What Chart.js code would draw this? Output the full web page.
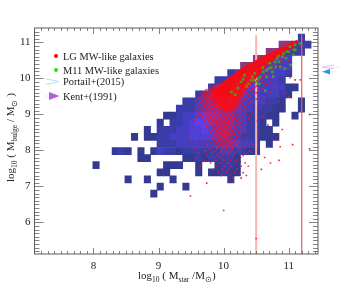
<!DOCTYPE html>
<html>
<head>
<meta charset="utf-8">
<title>Bulge mass vs stellar mass</title>
<script src="https://cdn.jsdelivr.net/npm/chart.js@4"></script>
<style>
  html, body { margin: 0; padding: 0; background: #fff; }
  canvas { display: block; }
</style>
</head>
<body>
<canvas id="chart" width="353" height="282"></canvas>
<script>
// tick labels
const xMajor = [8, 9, 10, 11];
const yMajor = [6, 7, 8, 9, 10, 11];

// density grid, top row first, one char per 0.0986 dex bin from x = 7.991
// . = empty, 1-5 = count class, 6 = low count class seen through the red haze
const heatRows = [
  "................................2",
  ".............................66222",
  "...........................662222",
  ".........................663333..",
  ".......................66333333..",
  ".....................2333333332..",
  "...................22334443332...",
  "..................23334444333311.",
  "................223444443333321..",
  "..............2233444443333221..1",
  ".............22233444443322211..1",
  "...........112334555443322211..1.",
  "..........1.223455544433221.1....",
  "........1.222334454444332211.....",
  "......1.112233344444433222111....",
  "..........2223333333344332.1.....",
  "...121.1.13221222222332211.......",
  ".......11.....112122221..........",
  "1..........111..1..1221..........",
  "..........11....1.11211..........",
  ".....1..1...1........1...........",
  "..........1...1..................",
  ".........1......................."
];

// edges of the solid red part of the LG sample
const redTopX = [9.8, 10.07, 10.24, 10.6, 11.13];
const redTopY = [9.63, 10.0, 10.23, 10.6, 11.06];
const redLowX = [9.8, 9.92, 10.05, 10.16, 10.3, 10.65, 11.0, 11.13];
const redLowY = [9.5, 9.2, 9.05, 9.15, 9.6, 10.35, 10.8, 11.0];

// LG MW-like galaxies: [y, x, x, ...]
const redRows = [
  [11.0, 11.08, 11.16], [10.9, 10.98, 11.1, 11.17], [10.8, 10.88, 11.04, 11.12],
  [10.7, 10.76, 10.86, 11.0, 11.06], [10.6, 10.7, 10.82, 10.93], [10.5, 10.62, 10.74, 10.88, 11.0],
  [10.42, 10.58, 10.68, 10.79, 10.92], [10.34, 10.5, 10.62, 10.72, 10.85], [10.26, 10.44, 10.56, 10.67, 10.8, 10.98],
  [10.18, 10.38, 10.46, 10.58, 10.7], [10.1, 10.32, 10.42, 10.52, 10.64, 10.76], [10.02, 10.26, 10.36, 10.47, 10.58, 10.69, 11.02],
  [9.96, 10.32, 10.4, 10.53, 10.62, 11.1, 11.18], [9.9, 10.26, 10.37, 10.46, 10.58, 10.72], [9.84, 9.94, 10.22, 10.31, 10.42, 10.55, 10.66],
  [9.78, 9.86, 9.92, 10.2, 10.27, 10.38, 10.5, 10.8], [9.72, 9.8, 9.88, 10.18, 10.25, 10.34, 10.45, 10.6],
  [9.66, 9.72, 9.79, 9.84, 10.16, 10.22, 10.3, 10.41, 10.55], [9.6, 9.7, 9.76, 9.82, 10.14, 10.2, 10.28, 10.36, 10.5, 10.73, 10.95],
  [9.54, 9.68, 9.73, 9.8, 9.82, 10.12, 10.18, 10.25, 10.33, 10.46], [9.48, 9.66, 9.71, 9.76, 9.81, 10.13, 10.19, 10.27, 10.4, 10.62, 11.0],
  [9.42, 9.64, 9.69, 9.75, 9.79, 9.83, 10.12, 10.17, 10.23, 10.35, 10.5], [9.36, 9.67, 9.72, 9.77, 9.82, 9.87, 10.12, 10.16, 10.22, 10.3, 10.44, 10.85],
  [9.3, 9.62, 9.7, 9.74, 9.79, 9.84, 9.89, 10.11, 10.15, 10.2, 10.28, 10.38, 10.7], [9.24, 9.6, 9.66, 9.72, 9.76, 9.81, 9.86, 9.9, 10.11, 10.18, 10.25, 10.42],
  [9.18, 9.63, 9.69, 9.74, 9.78, 9.83, 9.88, 9.92, 10.12, 10.17, 10.23, 10.34, 10.56], [9.12, 9.58, 9.67, 9.72, 9.77, 9.82, 9.87, 9.93, 10.11, 10.15, 10.21, 10.3],
  [9.06, 9.62, 9.7, 9.76, 9.81, 9.86, 9.91, 9.95, 10.11, 10.18, 10.27, 10.45, 11.2], [9.0, 9.64, 9.72, 9.78, 9.83, 9.88, 9.93, 9.98, 10.03, 10.08, 10.14, 10.22, 10.35, 11.32],
  [8.94, 9.6, 9.68, 9.75, 9.8, 9.86, 9.91, 9.96, 10.01, 10.06, 10.11, 10.17, 10.28, 10.6], [8.88, 9.66, 9.74, 9.8, 9.85, 9.9, 9.95, 10.0, 10.05, 10.1, 10.16, 10.24, 10.38],
  [8.82, 9.55, 9.7, 9.77, 9.83, 9.88, 9.93, 9.97, 10.02, 10.07, 10.13, 10.2, 10.3, 10.52], [8.76, 9.72, 9.8, 9.86, 9.91, 9.96, 10.0, 10.05, 10.1, 10.15, 10.26, 10.42],
  [8.7, 9.63, 9.75, 9.83, 9.89, 9.94, 9.98, 10.03, 10.08, 10.14, 10.22, 10.34, 10.68], [8.64, 9.78, 9.85, 9.9, 9.95, 10.0, 10.04, 10.09, 10.17, 10.28],
  [8.58, 9.58, 9.72, 9.83, 9.88, 9.93, 9.98, 10.02, 10.07, 10.12, 10.2, 10.4, 10.9], [8.52, 9.8, 9.87, 9.92, 9.97, 10.01, 10.05, 10.1, 10.18, 10.33],
  [8.46, 9.68, 9.84, 9.9, 9.95, 9.99, 10.03, 10.08, 10.15, 10.26, 10.55], [8.4, 9.76, 9.87, 9.93, 9.97, 10.01, 10.06, 10.12, 10.22],
  [8.34, 9.5, 9.82, 9.9, 9.95, 10.0, 10.04, 10.1, 10.19, 10.37], [8.28, 9.72, 9.86, 9.92, 9.98, 10.03, 10.08, 10.16, 10.3, 10.82],
  [8.22, 9.6, 9.8, 9.9, 9.96, 10.02, 10.07, 10.14, 10.24], [8.16, 9.75, 9.88, 9.95, 10.0, 10.06, 10.12, 10.2, 10.45, 11.06],
  [8.1, 9.66, 9.84, 9.93, 9.99, 10.05, 10.1, 10.18, 10.32, 10.87], [8.04, 9.55, 9.78, 9.9, 9.97, 10.04, 10.13, 10.25, 11.32],
  [7.98, 9.72, 9.86, 9.96, 10.03, 10.11, 10.22, 10.4], [7.92, 9.62, 9.82, 9.93, 10.01, 10.08, 10.18, 10.36],
  [7.86, 9.74, 9.9, 9.98, 10.07, 10.16, 10.3], [7.8, 9.58, 9.85, 9.95, 10.03, 10.14, 10.26, 10.63],
  [7.72, 9.7, 9.88, 10.0, 10.1, 10.2, 10.85], [7.65, 9.8, 9.94, 10.06, 10.18, 10.33, 10.72],
  [7.56, 9.64, 9.9, 10.02, 10.12, 10.27, 10.38], [7.47, 9.84, 9.98, 10.08, 10.2, 10.58],
  [7.38, 9.92, 10.05, 10.16, 10.3], [7.3, 9.96, 10.1, 10.35], [7.23, 10.14, 10.27],
  [7.09, 9.74], [6.73, 9.49], [6.33, 10.0], [5.55, 10.5]
];

// second pass over the dense part, between the rows above
const redRowsFine = [
  [10.66, 10.68, 10.74, 10.79, 10.9], [10.56, 10.66, 10.73, 10.78, 10.86], [10.46, 10.56, 10.61, 10.66, 10.71, 10.83],
  [10.38, 10.5, 10.55, 10.6, 10.65, 10.76], [10.3, 10.42, 10.47, 10.53, 10.59, 10.65, 10.74], [10.22, 10.36, 10.4, 10.46, 10.51, 10.6, 10.66],
  [10.14, 10.31, 10.35, 10.41, 10.47, 10.55, 10.62], [10.06, 10.27, 10.3, 10.37, 10.44, 10.5, 10.61], [9.99, 10.22, 10.28, 10.35, 10.43, 10.49, 10.56],
  [9.93, 10.2, 10.24, 10.3, 10.35, 10.44, 10.51], [9.87, 10.16, 10.21, 10.29, 10.34, 10.4, 10.48, 10.6], [9.81, 9.89, 9.93, 9.96, 10.15, 10.19, 10.25, 10.33, 10.41, 10.52],
  [9.75, 9.79, 9.84, 9.86, 9.9, 10.12, 10.17, 10.23, 10.31, 10.37, 10.48], [9.69, 9.74, 9.77, 9.83, 9.87, 10.13, 10.18, 10.21, 10.29, 10.35, 10.43],
  [9.63, 9.69, 9.73, 9.78, 9.81, 9.85, 10.1, 10.15, 10.19, 10.26, 10.32, 10.44], [9.57, 9.66, 9.71, 9.75, 9.79, 9.84, 9.87, 10.11, 10.16, 10.23, 10.29, 10.39],
  [9.51, 9.7, 9.74, 9.77, 9.83, 9.86, 9.9, 9.94, 10.14, 10.2, 10.24, 10.3, 10.37], [9.45, 9.62, 9.72, 9.78, 9.8, 9.85, 9.89, 9.92, 9.95, 10.0, 10.04, 10.09, 10.14, 10.18, 10.26, 10.33],
  [9.39, 9.68, 9.74, 9.79, 9.84, 9.88, 9.91, 9.96, 9.99, 10.03, 10.07, 10.1, 10.16, 10.24, 10.31], [9.33, 9.65, 9.73, 9.77, 9.81, 9.86, 9.9, 9.93, 9.97, 10.01, 10.05, 10.08, 10.13, 10.19, 10.26, 10.4],
  [9.27, 9.69, 9.75, 9.8, 9.83, 9.88, 9.92, 9.95, 9.98, 10.02, 10.06, 10.09, 10.14, 10.23, 10.29], [9.21, 9.71, 9.76, 9.79, 9.85, 9.89, 9.94, 9.96, 10.0, 10.04, 10.07, 10.1, 10.16, 10.21, 10.32],
  [9.15, 9.66, 9.73, 9.8, 9.84, 9.87, 9.91, 9.95, 9.99, 10.03, 10.06, 10.09, 10.13, 10.2, 10.27], [9.09, 9.69, 9.75, 9.81, 9.85, 9.89, 9.93, 9.97, 10.01, 10.04, 10.08, 10.12, 10.19, 10.33],
  [9.03, 9.74, 9.79, 9.84, 9.87, 9.92, 9.95, 10.0, 10.02, 10.06, 10.1, 10.16, 10.24], [8.97, 9.7, 9.77, 9.82, 9.88, 9.92, 9.96, 9.99, 10.04, 10.07, 10.12, 10.19, 10.31],
  [8.91, 9.76, 9.83, 9.87, 9.93, 9.97, 10.01, 10.04, 10.09, 10.13, 10.21], [8.85, 9.72, 9.81, 9.86, 9.9, 9.94, 9.99, 10.03, 10.06, 10.11, 10.18, 10.28],
  [8.79, 9.78, 9.84, 9.89, 9.93, 9.98, 10.01, 10.04, 10.08, 10.14, 10.23], [8.73, 9.81, 9.87, 9.92, 9.96, 10.0, 10.02, 10.07, 10.12, 10.19],
  [8.67, 9.74, 9.84, 9.88, 9.94, 9.97, 10.01, 10.05, 10.1, 10.16, 10.25], [8.61, 9.86, 9.91, 9.96, 9.99, 10.03, 10.06, 10.11, 10.21],
  [8.55, 9.83, 9.89, 9.94, 9.98, 10.02, 10.05, 10.09, 10.14, 10.29], [8.49, 9.79, 9.88, 9.92, 9.96, 10.0, 10.04, 10.07, 10.13, 10.23],
  [8.43, 9.85, 9.91, 9.95, 9.99, 10.02, 10.06, 10.11, 10.17], [8.37, 9.89, 9.94, 9.98, 10.01, 10.05, 10.09, 10.2],
  [8.31, 9.84, 9.92, 9.96, 10.01, 10.03, 10.07, 10.13], [8.25, 9.88, 9.94, 9.99, 10.04, 10.1, 10.19],
  [8.19, 9.85, 9.93, 9.98, 10.03, 10.09, 10.16], [8.13, 9.91, 9.97, 10.02, 10.07, 10.14]
];

// M11 MW-like galaxies
const greenX = [11.17, 11.1, 11.08, 11.02, 11.0, 10.97, 10.96, 10.92, 10.84, 10.85, 10.79, 10.71, 10.69, 10.61, 10.56, 10.46, 10.66, 10.48, 10.94, 10.87, 11.1, 11.07, 10.64, 10.5, 10.42, 10.32, 10.22, 10.53, 11.03, 10.8, 10.75, 10.9, 10.82, 10.73, 10.6, 10.55, 10.38, 10.27, 10.44, 10.66, 10.76, 10.3, 10.35, 10.12, 10.18];
const greenY = [10.97, 10.93, 10.79, 10.88, 10.74, 10.74, 10.56, 10.69, 10.62, 10.46, 10.46, 10.42, 10.28, 10.18, 10.04, 9.95, 10.04, 10.14, 10.28, 10.32, 10.79, 10.65, 9.66, 9.9, 9.95, 10.09, 9.73, 9.98, 10.37, 10.32, 10.18, 10.6, 10.55, 10.3, 10.3, 9.85, 9.85, 9.9, 10.05, 10.22, 10.05, 9.98, 9.78, 9.62, 9.55];

// vertical reference masses
const limitLow = 10.5;
const limitHigh = 11.2;

const legendItems = ["LG MW-like galaxies", "M11 MW-like galaxies", "Portail+(2015)", "Kent+(1991)"];

const HEAT_COLORS = { 1: "#343a92", 2: "#3a3ca8", 3: "#443ec0", 4: "#4e3fd8", 5: "#5a40ee", 6: "#8a3a80" };
const SERIF = '"Liberation Serif", serif';

// one floating bar per filled bin
const cellW = 0.0986, cellH = 0.197, gridX = 7.991, gridY = 6.70;
const heatCells = [];
heatRows.forEach((row, r) => {
  const j = heatRows.length - 1 - r;
  [...row].forEach((c, i) => {
    if (c === ".") return;
    heatCells.push({
      x: gridX + cellW * (i + 0.5),
      y: [gridY + cellH * j, gridY + cellH * (j + 1)],
      level: +c,
    });
  });
});

const redPoints = [];
redRows.concat(redRowsFine).forEach(([y, ...xs]) => xs.forEach(x => redPoints.push({ x, y })));

function drawParts(ctx, parts, x, y) {
  // text with subscripts, left to right from x
  parts.forEach(([text, sub]) => {
    ctx.font = (sub ? "7.5px " : "11px ") + SERIF;
    ctx.fillText(text, x, sub ? y + 2.5 : y);
    x += ctx.measureText(text).width;
  });
}

const frame = {
  id: "frame",
  afterDatasetsDraw(chart) {
    const { ctx, chartArea: a, scales: { x, y } } = chart;
    ctx.save();
    ctx.strokeStyle = "#5c5c5c";
    ctx.lineWidth = 1;
    ctx.strokeRect(a.left, a.top, a.right - a.left, a.bottom - a.top);
    ctx.strokeStyle = "rgba(90,90,90,0.75)";
    ctx.beginPath();
    for (let k = 72; k <= 114; k++) {
      const px = Math.round(x.getPixelForValue(k / 10)) + 0.5;
      const len = k % 10 === 0 ? 6 : 3;
      ctx.moveTo(px, a.bottom); ctx.lineTo(px, a.bottom - len);
      ctx.moveTo(px, a.top); ctx.lineTo(px, a.top + len);
    }
    for (let k = 52; k <= 113; k++) {
      const py = Math.round(y.getPixelForValue(k / 10)) + 0.5;
      const len = k % 10 === 0 ? 9 : 5;
      ctx.moveTo(a.left, py); ctx.lineTo(a.left + len, py);
      ctx.moveTo(a.right, py); ctx.lineTo(a.right - len, py);
    }
    ctx.stroke();

    // legend
    ctx.fillStyle = "#222";
    ctx.font = "10.4px " + SERIF;
    ctx.textBaseline = "alphabetic";
    const legendY = [60, 74, 85, 99.5];
    legendItems.forEach((t, i) => ctx.fillText(t, 63, legendY[i]));
    ctx.fillStyle = "#f00000";
    ctx.beginPath(); ctx.arc(56, 56, 2, 0, 7); ctx.fill();
    ctx.fillStyle = "#20e020";
    ctx.beginPath(); ctx.arc(56, 70, 2, 0, 7); ctx.fill();
    ctx.strokeStyle = "#a8d4f8";
    ctx.lineWidth = 0.8;
    ctx.beginPath(); ctx.moveTo(46, 79); ctx.lineTo(59, 81.5); ctx.lineTo(46, 84.5); ctx.stroke();
    ctx.strokeStyle = "#f0d8f4";
    ctx.beginPath(); ctx.moveTo(45, 96); ctx.lineTo(50, 96); ctx.stroke();
    ctx.fillStyle = "#b45adc";
    ctx.beginPath(); ctx.moveTo(49, 92); ctx.lineTo(59.5, 96); ctx.lineTo(49, 100); ctx.fill();

    // arrows right of the frame
    ctx.strokeStyle = "#e0b0ec";
    ctx.beginPath(); ctx.moveTo(334, 65); ctx.lineTo(322, 67.2); ctx.lineTo(334, 69); ctx.stroke();
    ctx.strokeStyle = "#f4dcf4";
    ctx.beginPath(); ctx.moveTo(326, 67.2); ctx.lineTo(340, 67.2); ctx.stroke();
    ctx.strokeStyle = "#cfe8fb";
    ctx.beginPath(); ctx.moveTo(328, 71.8); ctx.lineTo(336, 71.8); ctx.stroke();
    ctx.fillStyle = "#2a96f0";
    ctx.beginPath(); ctx.moveTo(322, 71.8); ctx.lineTo(330, 69); ctx.lineTo(330, 74.5); ctx.fill();

    // axis titles
    ctx.fillStyle = "#222";
    drawParts(ctx, [["log"], ["10", 1], [" ( M"], ["star", 1], [" /M"], ["\u2299", 1], [")"]], 138, 279);
    ctx.translate(14, 182);
    ctx.rotate(-Math.PI / 2);
    drawParts(ctx, [["log"], ["10", 1], [" ( M"], ["bulge", 1], [" / M"], ["\u2299", 1], [" )"]], 0, 0);
    ctx.restore();
  },
};

new Chart(document.getElementById("chart"), {
  data: {
    datasets: [
      {
        type: "bar",
        label: "simulation density",
        data: heatCells,
        backgroundColor: heatCells.map(c => HEAT_COLORS[c.level]),
        barThickness: 6.42,
        grouped: false,
        borderWidth: 0,
        order: 6,
      },
      {
        type: "line",
        label: "low limit",
        data: [{ x: limitLow, y: 5.12 }, { x: limitLow, y: 11.2 }],
        borderColor: "#f9b4b4",
        borderWidth: 2,
        pointRadius: 0,
        order: 5,
      },
      {
        type: "line",
        label: "red top",
        data: redTopX.map((x, i) => ({ x, y: redTopY[i] })),
        borderColor: "#f40a14",
        borderWidth: 1,
        pointRadius: 0,
        fill: false,
        order: 4,
      },
      {
        type: "line",
        label: "red low",
        data: redLowX.map((x, i) => ({ x, y: redLowY[i] })),
        borderColor: "#f40a14",
        borderWidth: 1,
        backgroundColor: "#f40a14",
        pointRadius: 0,
        fill: "-1",
        order: 4,
      },
      {
        type: "scatter",
        label: legendItems[0],
        data: redPoints,
        pointStyle: "rect",
        pointRadius: 1.15,
        pointBorderWidth: 0,
        pointBackgroundColor: "rgba(240,20,45,0.9)",
        order: 3,
      },
      {
        type: "scatter",
        label: legendItems[1],
        data: greenX.map((x, i) => ({ x, y: greenY[i] })),
        pointStyle: "rect",
        pointRadius: 1.9,
        pointBorderWidth: 0,
        pointBackgroundColor: "rgba(60,170,30,0.85)",
        order: 2,
      },
      {
        type: "line",
        label: "high limit",
        data: [{ x: limitHigh, y: 5.12 }, { x: limitHigh, y: 11.22 }],
        borderColor: "#e4606a",
        borderWidth: 1.2,
        pointRadius: 0,
        order: 1,
      },
    ],
  },
  options: {
    responsive: false,
    animation: false,
    events: [],
    layout: { padding: { top: 28, right: 35, left: 0, bottom: 0 } },
    plugins: { legend: { display: false }, tooltip: { enabled: false } },
    scales: {
      x: {
        type: "linear",
        offset: false,
        min: 7.095,
        max: 11.45,
        afterBuildTicks: s => { s.ticks = xMajor.map(value => ({ value })); },
        afterFit: s => { s.height = 28; },
        grid: { display: false, drawTicks: false },
        border: { display: false },
        ticks: { autoSkip: false, maxRotation: 0, padding: 6, color: "#222", font: { family: SERIF, size: 11 } },
      },
      y: {
        type: "linear",
        min: 5.12,
        max: 11.4,
        afterBuildTicks: s => { s.ticks = yMajor.map(value => ({ value })); },
        afterFit: s => { s.width = 34.5; },
        grid: { display: false, drawTicks: false },
        border: { display: false },
        ticks: { autoSkip: false, padding: 4, color: "#222", font: { family: SERIF, size: 11 } },
      },
    },
  },
  plugins: [frame],
});
</script>
</body>
</html>
